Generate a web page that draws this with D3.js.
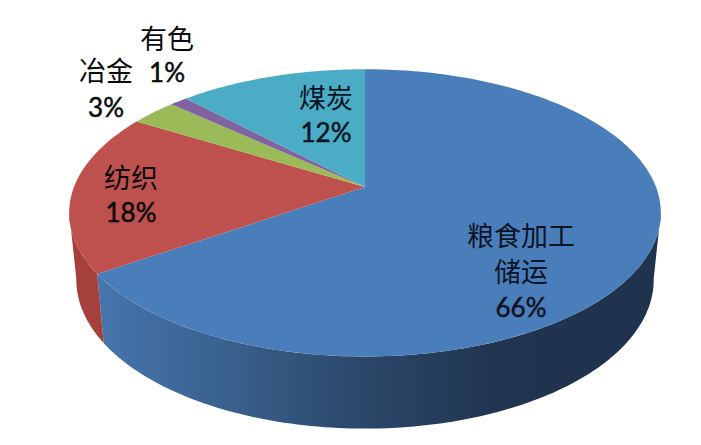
<!DOCTYPE html>
<html>
<head>
<meta charset="utf-8">
<script src="https://d3js.org/d3.v7.min.js"></script>
<style>
html, body { margin: 0; padding: 0; background: #fff; }
svg { display: block; }
</style>
</head>
<body>
<div id="chart"></div>
<script>
const categories = [['粮食加工', '储运'], ['纺织'], ['冶金'], ['有色'], ['煤炭']];
const shares = [65.5, 18.1, 3.0, 1.15, 12.25];
const colors = ['#4a7ebb', '#be504d', '#9bbb59', '#8064a2', '#4aacc5'];

const width = 701;
const height = 445;

// label anchors, one per slice (centre x, first line y)
const labelPos = [[521, 246], [131, 188], [106, 81], [167, 49], [326, 108]];
const lineGap = [36, 35, 37, 34, 35];

// perspective of the tilted disc: near edge is bigger than far edge
const tilt = 0.18;
const cx = 365;
const topRim = { y0: 187, a: 291, b: 139 };
const lowRim = { y0: 253, a: 284, b: 144 };

const project = (rim, t) => {
    const w = 1 + tilt * Math.cos(t);
    return [cx + rim.a * Math.sin(t) / w, rim.y0 - rim.b * Math.cos(t) / w];
};

const slices = d3.pie().sort(null).value(d => d)(shares);

const rimPoints = (rim, t0, t1) => {
    const n = Math.max(2, Math.ceil(Math.abs(t1 - t0) / 0.02));
    return d3.range(n + 1).map(i => project(rim, t0 + (t1 - t0) * i / n));
};

const line = d3.line();

const svg = d3.select('#chart')
    .append('svg')
    .attr('width', width)
    .attr('height', height);

const grad = svg.append('defs').append('linearGradient')
    .attr('id', 'blueSide')
    .attr('gradientUnits', 'userSpaceOnUse')
    .attr('x1', 100).attr('x2', 660).attr('y1', 0).attr('y2', 0);
[[0, '#4575ad'], [0.18, '#3c6594'], [0.47, '#2b4769'], [0.72, '#20344f'], [1, '#1f334e']]
    .forEach(s => grad.append('stop').attr('offset', s[0]).attr('stop-color', s[1]));

// side wall, only the two slices that face the viewer
const rad = Math.PI / 180;
const sides = [
    { from: 100 * rad, to: slices[0].endAngle, fill: 'url(#blueSide)' },
    { from: slices[1].startAngle, to: 260 * rad, fill: '#a6403d' }
];
svg.selectAll('path.side')
    .data(sides)
    .join('path')
    .attr('class', 'side')
    .attr('fill', d => d.fill)
    .attr('d', d => line(rimPoints(topRim, d.from, d.to)
        .concat(rimPoints(lowRim, d.to, d.from))) + 'Z');

// top face
svg.selectAll('path.slice')
    .data(slices)
    .join('path')
    .attr('class', 'slice')
    .attr('fill', (d, i) => colors[i])
    .attr('d', d => line([[cx, topRim.y0]].concat(rimPoints(topRim, d.startAngle, d.endAngle))) + 'Z');

// labels
const labels = svg.selectAll('g.label')
    .data(slices)
    .join('g')
    .attr('class', 'label')
    .attr('transform', (d, i) => `translate(${labelPos[i][0]},${labelPos[i][1]})`);

labels.each(function (d, i) {
    const g = d3.select(this);
    const ink = i === 0 || i === 4 ? '#0b1424' : '#0a0a0a';
    categories[i].forEach((name, j) => {
        g.append('text')
            .attr('y', j * lineGap[i])
            .attr('text-anchor', 'middle')
            .attr('font-family', '"Noto Sans CJK SC"')
            .attr('font-size', 27)
            .attr('fill', ink)
            .text(name);
    });
    g.append('text')
        .attr('y', categories[i].length * lineGap[i] - 1)
        .attr('text-anchor', 'middle')
        .attr('font-family', 'Lato')
        .attr('font-size', 26)
        .attr('fill', ink)
        .attr('stroke', ink)
        .attr('stroke-width', 0.5)
        .text(d3.format('.0f')(shares[i]) + '%');
});
</script>
</body>
</html>
